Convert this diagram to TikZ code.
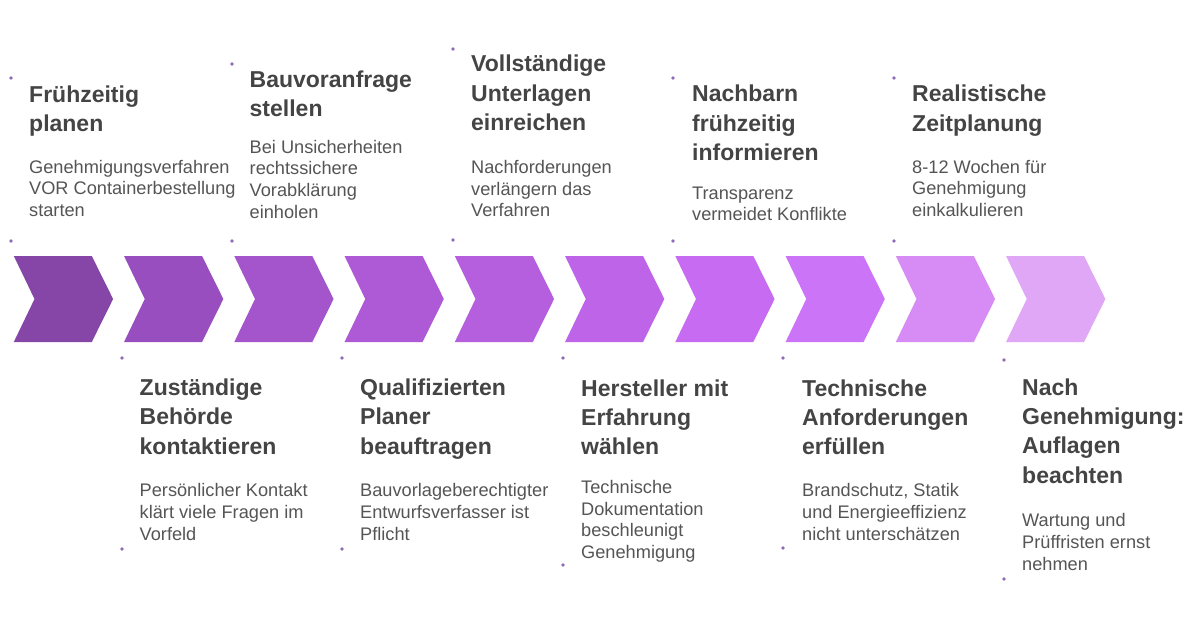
\documentclass[tikz,border=0pt]{standalone}
\usepackage{fontspec}
\setmainfont{Liberation Sans}
\definecolor{titlec}{HTML}{444444}
\definecolor{descc}{HTML}{555555}
\definecolor{dotc}{HTML}{8E6AB8}
\definecolor{c1}{HTML}{8546A8}
\definecolor{c2}{HTML}{984EBE}
\definecolor{c3}{HTML}{A455CB}
\definecolor{c4}{HTML}{AE5AD6}
\definecolor{c5}{HTML}{B55EDE}
\definecolor{c6}{HTML}{BE64E8}
\definecolor{c7}{HTML}{C66BF2}
\definecolor{c8}{HTML}{CC74F8}
\definecolor{c9}{HTML}{D78BF5}
\definecolor{c10}{HTML}{DFA7F6}
\newcommand{\ttllines}[4]{%
  \foreach \l [count=\i] in {#4} {\node[ttl] (#1-t\i) at (#2, #3+29.4*\i-29.4) {\l};}}
\newcommand{\dsclines}[4]{%
  \foreach \l [count=\i] in {#4} {\node[dsc] (#1-d\i) at (#2, #3+21.8*\i-21.8) {\l};}}
\newcommand{\chev}[3]{% name, left x, colour
  \fill[#3] (#2,256) -- (#2+78,256) -- (#2+99.3,299) -- (#2+78,342) -- (#2,342) -- (#2+20.7,299) -- cycle;
  \coordinate (#1) at (#2+50,299);}
\begin{document}
\begin{tikzpicture}[x=1pt,y=-1pt,
  ttl/.style={anchor=base west, inner sep=0pt, text=titlec, font=\fontsize{23}{27}\selectfont\bfseries},
  dsc/.style={anchor=base west, inner sep=0pt, text=descc, font=\fontsize{18.2}{22}\selectfont},
  dotm/.style={fill=dotc}]
\useasboundingbox (0,0) rectangle (1200,640);
\fill[white] (0,0) rectangle (1200,640);
% chevrons
\foreach \k in {1,...,10} {\chev{ch\k}{13.8+110.25*\k-110.25}{c\k}}
% dots
\foreach \x/\a/\b in {11/78/241, 232/64/241, 453/49/240, 673/78/241, 894/78/241,
                      122/358/549, 342/358/549, 563/358/565, 783/358/548, 1004/360/579}
  {\fill[dotm] (\x,\a) circle (1.8pt); \fill[dotm] (\x,\b) circle (1.8pt);}
% top items
\ttllines{s1}{29}{102}{Frühzeitig, planen}
\dsclines{s1}{29}{173}{Genehmigungsverfahren, VOR Containerbestellung, starten}
\ttllines{s2}{249.5}{87.5}{Bauvoranfrage, stellen}
\dsclines{s2}{249.5}{153}{Bei Unsicherheiten, rechtssichere, Vorabklärung, einholen}
\ttllines{s3}{471}{71.7}{Vollständige, Unterlagen, einreichen}
\dsclines{s3}{471}{173.3}{Nachforderungen, verlängern das, Verfahren}
\ttllines{s4}{692}{101.7}{Nachbarn, frühzeitig, informieren}
\dsclines{s4}{692}{199}{Transparenz, vermeidet Konflikte}
\ttllines{s5}{912}{101.7}{Realistische, Zeitplanung}
\dsclines{s5}{912}{173}{8-12 Wochen für, Genehmigung, einkalkulieren}
% bottom items
\ttllines{s6}{139.5}{395.5}{Zuständige, Behörde, kontaktieren}
\dsclines{s6}{139.5}{496.7}{Persönlicher Kontakt, klärt viele Fragen im, Vorfeld}
\ttllines{s7}{360}{395.5}{Qualifizierten, Planer, beauftragen}
\dsclines{s7}{360}{496.7}{Bauvorlageberechtigter, Entwurfsverfasser ist, Pflicht}
\ttllines{s8}{581}{396}{Hersteller mit, Erfahrung, wählen}
\dsclines{s8}{581}{493.3}{Technische, Dokumentation, beschleunigt, Genehmigung}
\ttllines{s9}{802}{396}{Technische, Anforderungen, erfüllen}
\dsclines{s9}{802}{496.7}{{Brandschutz, Statik}, und Energieeffizienz, nicht unterschätzen}
\ttllines{s10}{1022}{395}{Nach, Genehmigung:, Auflagen, beachten}
\dsclines{s10}{1022}{526.7}{Wartung und, Prüffristen ernst, nehmen}
\end{tikzpicture}
\end{document}
